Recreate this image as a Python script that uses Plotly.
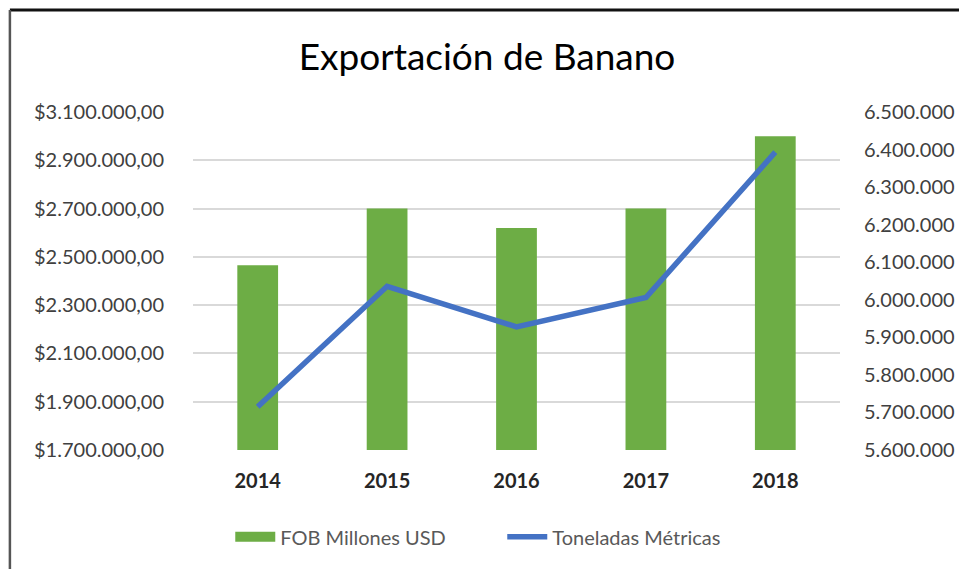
import plotly.graph_objects as go

# datos
anios = ["2014", "2015", "2016", "2017", "2018"]
fob_usd = [2465000, 2700000, 2620000, 2700000, 3000000]
toneladas = [5715000, 6036000, 5928000, 6006000, 6393000]

verde = "#6DAD45"
azul = "#4472C4"
gris_texto = "#404040"

fig = go.Figure()

fig.add_trace(go.Bar(
    x=anios,
    y=fob_usd,
    name="FOB Millones USD",
    marker=dict(color=verde, line=dict(width=0)),
    width=0.315,
    yaxis="y",
    showlegend=False,
))

# solo para la leyenda: rectangulo verde ancho como en Excel
fig.add_trace(go.Scatter(
    x=[None],
    y=[None],
    name="FOB Millones USD",
    mode="lines",
    line=dict(color=verde, width=13),
    yaxis="y",
))

fig.add_trace(go.Scatter(
    x=anios,
    y=toneladas,
    name="Toneladas Métricas",
    mode="lines",
    line=dict(color=azul, width=5.5),
    yaxis="y2",
))

# la pagina tiene 8px de margen en el body, por eso 959x561
fig.update_layout(
    width=959,
    height=561,
    margin=dict(l=185, r=123, t=104, b=119),
    paper_bgcolor="white",
    plot_bgcolor="white",
    separators=",.",
    font=dict(family="Lato, Open Sans, sans-serif", size=20, color=gris_texto),
    title=dict(
        text="Exportación de Banano",
        x=0.4995, xanchor="center",
        y=0.9127, yanchor="middle",
        font=dict(size=37, color="#000000"),
    ),
    xaxis=dict(
        type="category",
        range=[-0.5, 4.5],
        showgrid=False,
        showline=False,
        zeroline=False,
        ticks="",
        ticklabelstandoff=17,
        tickfont=dict(size=20, color="#262626", weight="bold"),
    ),
    yaxis=dict(
        range=[1700000, 3100000],
        dtick=200000,
        tick0=1700000,
        tickformat="$,.2f",
        showgrid=True,
        gridcolor="#D9D9D9",
        gridwidth=1.5,
        zeroline=False,
        showline=False,
        ticks="",
        ticklabelstandoff=28,
    ),
    yaxis2=dict(
        overlaying="y",
        side="right",
        range=[5600000, 6500000],
        dtick=100000,
        tick0=5600000,
        tickformat=",d",
        showgrid=False,
        zeroline=False,
        showline=False,
        ticks="",
        ticklabelstandoff=23,
    ),
    showlegend=True,
    legend=dict(
        orientation="h",
        x=0.478, xanchor="center",
        y=-0.257, yanchor="middle",
        font=dict(size=20, color="#595959"),
        itemwidth=40,
        entrywidth=217,
        traceorder="normal",
    ),
    shapes=[
        # marco del grafico (recortado en la captura)
        dict(type="line", xref="paper", yref="paper",
             x0=-0.283, x1=1.3, y0=1.302, y1=1.302,
             line=dict(color="#111111", width=3)),
        dict(type="line", xref="paper", yref="paper",
             x0=-0.283, x1=-0.283, y0=1.302, y1=-0.4,
             line=dict(color="#555555", width=2.5)),
    ],
)

fig.write_html("out.html")
